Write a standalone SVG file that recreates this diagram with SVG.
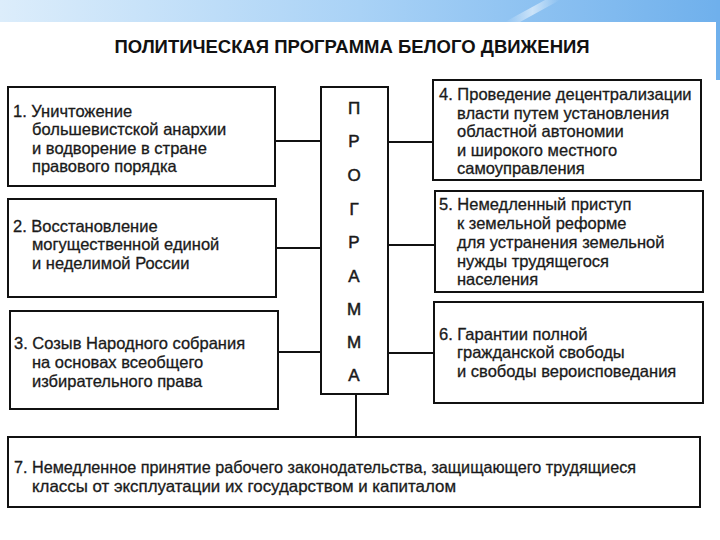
<svg xmlns="http://www.w3.org/2000/svg" width="720" height="540" viewBox="0 0 720 540">
<defs>
<linearGradient id="sky" x1="0" y1="0" x2="1" y2="0">
<stop offset="0" stop-color="#dcedfb"/>
<stop offset="0.5" stop-color="#a9d2f6"/>
<stop offset="1" stop-color="#6fb0ec"/>
</linearGradient>
<linearGradient id="streak" x1="0" y1="0" x2="1" y2="0">
<stop offset="0" stop-color="#ffffff" stop-opacity="0"/>
<stop offset="0.5" stop-color="#ffffff" stop-opacity="0.55"/>
<stop offset="1" stop-color="#ffffff" stop-opacity="0"/>
</linearGradient>
</defs>
<style>
.box{fill:#ffffff;stroke:#111111;stroke-width:2}
.con{fill:none;stroke:#111111;stroke-width:2}
.t{font-family:"Liberation Sans",Arial,sans-serif;font-size:16.5px;fill:#1a1a1a;stroke:#1a1a1a;stroke-width:0.3}
.c{font-family:"Liberation Sans",Arial,sans-serif;font-size:17px;fill:#1a1a1a;stroke:#1a1a1a;stroke-width:0.5;text-anchor:middle}
.title{font-family:"Liberation Sans",Arial,sans-serif;font-size:18.5px;font-weight:bold;fill:#111111;text-anchor:middle}
</style>
<rect x="0" y="0" width="720" height="540" fill="#ffffff"/>
<rect x="0" y="0" width="720" height="22" fill="url(#sky)"/>
<rect x="716" y="0" width="4" height="80" fill="#6fb0ec"/>
<polygon points="505,22 520,22 560,0 545,0" fill="url(#streak)"/>
<text class="title" x="352" y="53">ПОЛИТИЧЕСКАЯ ПРОГРАММА БЕЛОГО ДВИЖЕНИЯ</text>

<g id="connectors">
<line class="con" x1="275" y1="141" x2="321" y2="141"/>
<line class="con" x1="276" y1="248" x2="321" y2="248"/>
<line class="con" x1="278" y1="352" x2="321" y2="352"/>
<line class="con" x1="388" y1="142" x2="433" y2="142"/>
<line class="con" x1="388" y1="245" x2="435" y2="245"/>
<line class="con" x1="388" y1="353" x2="434" y2="353"/>
<line class="con" x1="356" y1="394" x2="356" y2="437"/>
</g>

<g id="center">
<rect class="box" x="321" y="87" width="67" height="307"/>
<text class="c" x="354" y="114">П</text>
<text class="c" x="354" y="147">Р</text>
<text class="c" x="354" y="181">О</text>
<text class="c" x="354" y="215">Г</text>
<text class="c" x="354" y="248">Р</text>
<text class="c" x="354" y="282">А</text>
<text class="c" x="354" y="315">М</text>
<text class="c" x="354" y="348">М</text>
<text class="c" x="354" y="381">А</text>
</g>

<g id="node1">
<rect class="box" x="8" y="87" width="267" height="99"/>
<text class="t" x="13" y="117">1. Уничтожение</text>
<text class="t" x="32" y="135">большевистской анархии</text>
<text class="t" x="32" y="154">и водворение в стране</text>
<text class="t" x="32" y="172">правового порядка</text>
</g>

<g id="node2">
<rect class="box" x="8" y="199" width="268" height="98"/>
<text class="t" x="13" y="232">2. Восстановление</text>
<text class="t" x="32" y="250">могущественной единой</text>
<text class="t" x="32" y="269">и неделимой России</text>
</g>

<g id="node3">
<rect class="box" x="10" y="311" width="268" height="98"/>
<text class="t" x="14" y="349">3. Созыв Народного собрания</text>
<text class="t" x="32" y="368">на основах всеобщего</text>
<text class="t" x="32" y="387">избирательного права</text>
</g>

<g id="node4">
<rect class="box" x="433" y="80" width="268" height="100"/>
<text class="t" x="439" y="100">4. Проведение децентрализации</text>
<text class="t" x="457" y="119">власти путем установления</text>
<text class="t" x="457" y="137">областной автономии</text>
<text class="t" x="457" y="156">и широкого местного</text>
<text class="t" x="457" y="174">самоуправления</text>
</g>

<g id="node5">
<rect class="box" x="435" y="191" width="268" height="101"/>
<text class="t" x="439" y="210">5. Немедленный приступ</text>
<text class="t" x="457" y="229">к земельной реформе</text>
<text class="t" x="457" y="248">для устранения земельной</text>
<text class="t" x="457" y="267">нужды трудящегося</text>
<text class="t" x="457" y="285">населения</text>
</g>

<g id="node6">
<rect class="box" x="434" y="302" width="269" height="101"/>
<text class="t" x="439" y="340">6. Гарантии полной</text>
<text class="t" x="457" y="358">гражданской свободы</text>
<text class="t" x="457" y="377">и свободы вероисповедания</text>
</g>

<g id="node7">
<rect class="box" x="8" y="437" width="692" height="70"/>
<text class="t" x="14" y="473" textLength="622" lengthAdjust="spacingAndGlyphs">7. Немедленное принятие рабочего законодательства, защищающего трудящиеся</text>
<text class="t" x="32" y="492" textLength="424" lengthAdjust="spacingAndGlyphs">классы от эксплуатации их государством и капиталом</text>
</g>
</svg>
